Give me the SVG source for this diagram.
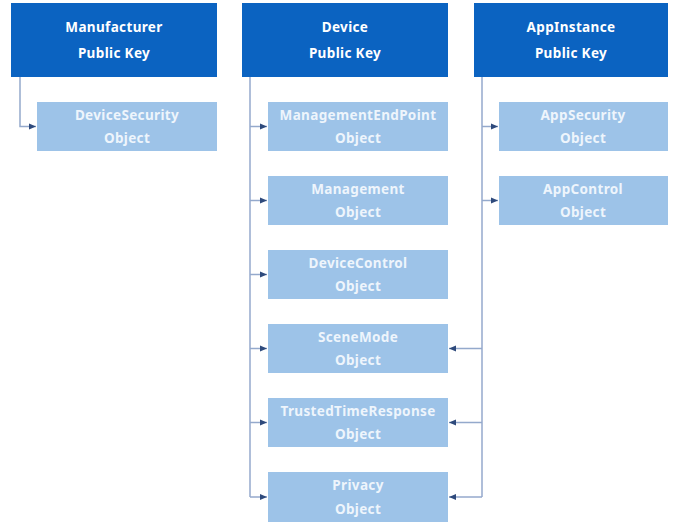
<svg xmlns="http://www.w3.org/2000/svg" width="673" height="523" viewBox="0 0 673 523">
<style>
.key{fill:#0b63c1}
.obj{fill:#9dc3e8}
.t{font-family:"Noto Sans","Liberation Sans",sans-serif;font-weight:bold;font-size:13.5px;letter-spacing:0.35px;fill:#ffffff;text-anchor:middle}
.t2{fill:#eef5fc}
.c{fill:none;stroke:#94a9cc;stroke-width:1.5}
</style>
<defs>
<marker id="ah" markerWidth="8" markerHeight="8" refX="7" refY="4" orient="auto" markerUnits="userSpaceOnUse">
<path d="M0,1 L7,4 L0,7 Z" fill="#2e4a7c"/>
</marker>
</defs>
<rect width="673" height="523" fill="#ffffff"/>
<g id="connectors">
<path class="c" d="M20,77 V126.5 H36" marker-end="url(#ah)"/>
<path class="c" d="M250,77 V497"/>
<path class="c" d="M250,126.5 H267" marker-end="url(#ah)"/>
<path class="c" d="M250,200.5 H267" marker-end="url(#ah)"/>
<path class="c" d="M250,274.5 H267" marker-end="url(#ah)"/>
<path class="c" d="M250,348.5 H267" marker-end="url(#ah)"/>
<path class="c" d="M250,422.5 H267" marker-end="url(#ah)"/>
<path class="c" d="M250,497 H267" marker-end="url(#ah)"/>
<path class="c" d="M482,77 V497"/>
<path class="c" d="M482,126.5 H498" marker-end="url(#ah)"/>
<path class="c" d="M482,200.5 H498" marker-end="url(#ah)"/>
<path class="c" d="M482,348.5 H449" marker-end="url(#ah)"/>
<path class="c" d="M482,422.5 H449" marker-end="url(#ah)"/>
<path class="c" d="M482,497 H449" marker-end="url(#ah)"/>
</g>
<g id="manufacturer-key"><rect class="key" x="11" y="3" width="206" height="74"/><text class="t" x="114" y="32">Manufacturer</text><text class="t" x="114" y="58">Public Key</text></g>
<g id="device-key"><rect class="key" x="242" y="3" width="206" height="74"/><text class="t" x="345" y="32">Device</text><text class="t" x="345" y="58">Public Key</text></g>
<g id="appinstance-key"><rect class="key" x="474" y="3" width="194" height="74"/><text class="t" x="571" y="32">AppInstance</text><text class="t" x="571" y="58">Public Key</text></g>
<g id="devicesecurity"><rect class="obj" x="37" y="102" width="180" height="49"/><text class="t t2" x="127" y="120">DeviceSecurity</text><text class="t t2" x="127" y="143">Object</text></g>
<g id="managementendpoint"><rect class="obj" x="268" y="102" width="180" height="49"/><text class="t t2" x="358" y="120">ManagementEndPoint</text><text class="t t2" x="358" y="143">Object</text></g>
<g id="management"><rect class="obj" x="268" y="176" width="180" height="49"/><text class="t t2" x="358" y="194">Management</text><text class="t t2" x="358" y="217">Object</text></g>
<g id="devicecontrol"><rect class="obj" x="268" y="250" width="180" height="49"/><text class="t t2" x="358" y="268">DeviceControl</text><text class="t t2" x="358" y="291">Object</text></g>
<g id="scenemode"><rect class="obj" x="268" y="324" width="180" height="49"/><text class="t t2" x="358" y="342">SceneMode</text><text class="t t2" x="358" y="365">Object</text></g>
<g id="trustedtimeresponse"><rect class="obj" x="268" y="398" width="180" height="49"/><text class="t t2" x="358" y="416">TrustedTimeResponse</text><text class="t t2" x="358" y="439">Object</text></g>
<g id="privacy"><rect class="obj" x="268" y="472" width="180" height="50"/><text class="t t2" x="358" y="490">Privacy</text><text class="t t2" x="358" y="514">Object</text></g>
<g id="appsecurity"><rect class="obj" x="499" y="102" width="169" height="49"/><text class="t t2" x="583" y="120">AppSecurity</text><text class="t t2" x="583" y="143">Object</text></g>
<g id="appcontrol"><rect class="obj" x="499" y="176" width="169" height="49"/><text class="t t2" x="583" y="194">AppControl</text><text class="t t2" x="583" y="217">Object</text></g>
</svg>
